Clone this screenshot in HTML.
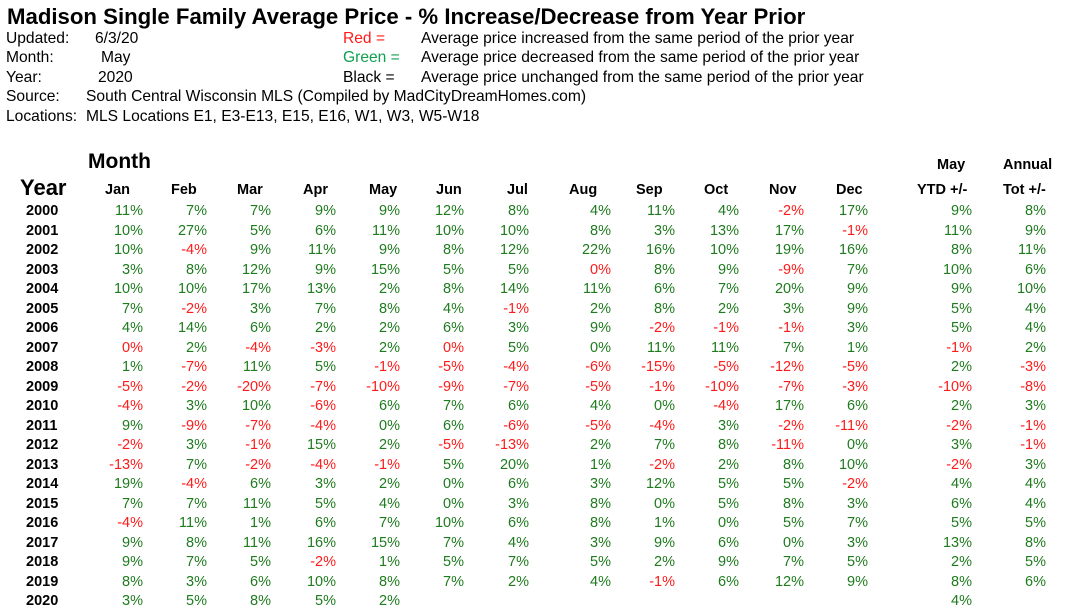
<!DOCTYPE html>
<html><head><meta charset="utf-8"><style>
body{margin:0;width:1070px;height:612px;background:#fff;position:relative;overflow:hidden;font-family:"Liberation Sans",Arial,sans-serif;color:#000}
div,span{position:absolute;white-space:nowrap}
.t{left:7px;top:4px;font-size:22.2px;font-weight:bold}
.i{font-size:15.6px;line-height:18px}
.h{font-size:14.5px;font-weight:bold;line-height:18px}
.row{left:0;width:1070px;height:18px;font-size:14.5px;line-height:18px}
.row span{text-align:right;width:60px}
.y{left:26px;font-weight:bold;text-align:left!important}
.g{color:#1e7b1e}.r{color:#ff1a1a}
.a{left:83px}.b{left:147px}.c{left:211px}.d{left:276px}.e{left:340px}.f{left:404px}.gg{left:469px}.h1{left:551px}.i1{left:615px}.j{left:679px}.k{left:744px}.l{left:808px}.m{left:912px}.n{left:986px}
</style></head><body>
<div class="t">Madison Single Family Average Price - % Increase/Decrease from Year Prior</div>
<div class="i" style="left:6px;top:30px">Updated:</div><div class="i" style="left:95px;top:30px">6/3/20</div>
<div class="i" style="left:6px;top:49px">Month:</div><div class="i" style="left:101px;top:49px">May</div>
<div class="i" style="left:6px;top:69px">Year:</div><div class="i" style="left:98px;top:69px">2020</div>
<div class="i" style="left:6px;top:88px">Source:</div><div class="i" style="left:86px;top:88px">South Central Wisconsin MLS (Compiled by MadCityDreamHomes.com)</div>
<div class="i" style="left:6px;top:108px">Locations:</div><div class="i" style="left:86px;top:108px">MLS Locations E1, E3-E13, E15, E16, W1, W3, W5-W18</div>
<div class="i" style="left:343px;top:30px;color:#ff1a1a">Red =</div><div class="i" style="left:421px;top:30px">Average price increased from the same period of the prior year</div>
<div class="i" style="left:343px;top:49px;color:#10a050">Green =</div><div class="i" style="left:421px;top:49px">Average price decreased from the same period of the prior year</div>
<div class="i" style="left:343px;top:69px">Black =</div><div class="i" style="left:421px;top:69px">Average price unchanged from the same period of the prior year</div>
<div style="left:88px;top:150px;font-size:21px;font-weight:bold">Month</div>
<div style="left:20px;top:175px;font-size:22px;font-weight:bold">Year</div>
<div class="h" style="left:937px;top:156px">May</div><div class="h" style="left:1003px;top:156px">Annual</div>
<div class="h" style="left:105px;top:181px">Jan</div><div class="h" style="left:171px;top:181px">Feb</div><div class="h" style="left:237px;top:181px">Mar</div><div class="h" style="left:303px;top:181px">Apr</div><div class="h" style="left:369px;top:181px">May</div><div class="h" style="left:436px;top:181px">Jun</div><div class="h" style="left:507px;top:181px">Jul</div><div class="h" style="left:569px;top:181px">Aug</div><div class="h" style="left:636px;top:181px">Sep</div><div class="h" style="left:704px;top:181px">Oct</div><div class="h" style="left:769px;top:181px">Nov</div><div class="h" style="left:836px;top:181px">Dec</div><div class="h" style="left:917px;top:181px">YTD +/-</div><div class="h" style="left:1003px;top:181px">Tot +/-</div>

<div class="row" style="top:202px"><span class="y">2000</span><span class="a g">11%</span><span class="b g">7%</span><span class="c g">7%</span><span class="d g">9%</span><span class="e g">9%</span><span class="f g">12%</span><span class="gg g">8%</span><span class="h1 g">4%</span><span class="i1 g">11%</span><span class="j g">4%</span><span class="k r">-2%</span><span class="l g">17%</span><span class="m g">9%</span><span class="n g">8%</span></div>
<div class="row" style="top:221.5px"><span class="y">2001</span><span class="a g">10%</span><span class="b g">27%</span><span class="c g">5%</span><span class="d g">6%</span><span class="e g">11%</span><span class="f g">10%</span><span class="gg g">10%</span><span class="h1 g">8%</span><span class="i1 g">3%</span><span class="j g">13%</span><span class="k g">17%</span><span class="l r">-1%</span><span class="m g">11%</span><span class="n g">9%</span></div>
<div class="row" style="top:241px"><span class="y">2002</span><span class="a g">10%</span><span class="b r">-4%</span><span class="c g">9%</span><span class="d g">11%</span><span class="e g">9%</span><span class="f g">8%</span><span class="gg g">12%</span><span class="h1 g">22%</span><span class="i1 g">16%</span><span class="j g">10%</span><span class="k g">19%</span><span class="l g">16%</span><span class="m g">8%</span><span class="n g">11%</span></div>
<div class="row" style="top:260.5px"><span class="y">2003</span><span class="a g">3%</span><span class="b g">8%</span><span class="c g">12%</span><span class="d g">9%</span><span class="e g">15%</span><span class="f g">5%</span><span class="gg g">5%</span><span class="h1 r">0%</span><span class="i1 g">8%</span><span class="j g">9%</span><span class="k r">-9%</span><span class="l g">7%</span><span class="m g">10%</span><span class="n g">6%</span></div>
<div class="row" style="top:280px"><span class="y">2004</span><span class="a g">10%</span><span class="b g">10%</span><span class="c g">17%</span><span class="d g">13%</span><span class="e g">2%</span><span class="f g">8%</span><span class="gg g">14%</span><span class="h1 g">11%</span><span class="i1 g">6%</span><span class="j g">7%</span><span class="k g">20%</span><span class="l g">9%</span><span class="m g">9%</span><span class="n g">10%</span></div>
<div class="row" style="top:299.5px"><span class="y">2005</span><span class="a g">7%</span><span class="b r">-2%</span><span class="c g">3%</span><span class="d g">7%</span><span class="e g">8%</span><span class="f g">4%</span><span class="gg r">-1%</span><span class="h1 g">2%</span><span class="i1 g">8%</span><span class="j g">2%</span><span class="k g">3%</span><span class="l g">9%</span><span class="m g">5%</span><span class="n g">4%</span></div>
<div class="row" style="top:319px"><span class="y">2006</span><span class="a g">4%</span><span class="b g">14%</span><span class="c g">6%</span><span class="d g">2%</span><span class="e g">2%</span><span class="f g">6%</span><span class="gg g">3%</span><span class="h1 g">9%</span><span class="i1 r">-2%</span><span class="j r">-1%</span><span class="k r">-1%</span><span class="l g">3%</span><span class="m g">5%</span><span class="n g">4%</span></div>
<div class="row" style="top:338.5px"><span class="y">2007</span><span class="a r">0%</span><span class="b g">2%</span><span class="c r">-4%</span><span class="d r">-3%</span><span class="e g">2%</span><span class="f r">0%</span><span class="gg g">5%</span><span class="h1 g">0%</span><span class="i1 g">11%</span><span class="j g">11%</span><span class="k g">7%</span><span class="l g">1%</span><span class="m r">-1%</span><span class="n g">2%</span></div>
<div class="row" style="top:358px"><span class="y">2008</span><span class="a g">1%</span><span class="b r">-7%</span><span class="c g">11%</span><span class="d g">5%</span><span class="e r">-1%</span><span class="f r">-5%</span><span class="gg r">-4%</span><span class="h1 r">-6%</span><span class="i1 r">-15%</span><span class="j r">-5%</span><span class="k r">-12%</span><span class="l r">-5%</span><span class="m g">2%</span><span class="n r">-3%</span></div>
<div class="row" style="top:377.5px"><span class="y">2009</span><span class="a r">-5%</span><span class="b r">-2%</span><span class="c r">-20%</span><span class="d r">-7%</span><span class="e r">-10%</span><span class="f r">-9%</span><span class="gg r">-7%</span><span class="h1 r">-5%</span><span class="i1 r">-1%</span><span class="j r">-10%</span><span class="k r">-7%</span><span class="l r">-3%</span><span class="m r">-10%</span><span class="n r">-8%</span></div>
<div class="row" style="top:397px"><span class="y">2010</span><span class="a r">-4%</span><span class="b g">3%</span><span class="c g">10%</span><span class="d r">-6%</span><span class="e g">6%</span><span class="f g">7%</span><span class="gg g">6%</span><span class="h1 g">4%</span><span class="i1 g">0%</span><span class="j r">-4%</span><span class="k g">17%</span><span class="l g">6%</span><span class="m g">2%</span><span class="n g">3%</span></div>
<div class="row" style="top:416.5px"><span class="y">2011</span><span class="a g">9%</span><span class="b r">-9%</span><span class="c r">-7%</span><span class="d r">-4%</span><span class="e g">0%</span><span class="f g">6%</span><span class="gg r">-6%</span><span class="h1 r">-5%</span><span class="i1 r">-4%</span><span class="j g">3%</span><span class="k r">-2%</span><span class="l r">-11%</span><span class="m r">-2%</span><span class="n r">-1%</span></div>
<div class="row" style="top:436px"><span class="y">2012</span><span class="a r">-2%</span><span class="b g">3%</span><span class="c r">-1%</span><span class="d g">15%</span><span class="e g">2%</span><span class="f r">-5%</span><span class="gg r">-13%</span><span class="h1 g">2%</span><span class="i1 g">7%</span><span class="j g">8%</span><span class="k r">-11%</span><span class="l g">0%</span><span class="m g">3%</span><span class="n r">-1%</span></div>
<div class="row" style="top:455.5px"><span class="y">2013</span><span class="a r">-13%</span><span class="b g">7%</span><span class="c r">-2%</span><span class="d r">-4%</span><span class="e r">-1%</span><span class="f g">5%</span><span class="gg g">20%</span><span class="h1 g">1%</span><span class="i1 r">-2%</span><span class="j g">2%</span><span class="k g">8%</span><span class="l g">10%</span><span class="m r">-2%</span><span class="n g">3%</span></div>
<div class="row" style="top:475px"><span class="y">2014</span><span class="a g">19%</span><span class="b r">-4%</span><span class="c g">6%</span><span class="d g">3%</span><span class="e g">2%</span><span class="f g">0%</span><span class="gg g">6%</span><span class="h1 g">3%</span><span class="i1 g">12%</span><span class="j g">5%</span><span class="k g">5%</span><span class="l r">-2%</span><span class="m g">4%</span><span class="n g">4%</span></div>
<div class="row" style="top:494.5px"><span class="y">2015</span><span class="a g">7%</span><span class="b g">7%</span><span class="c g">11%</span><span class="d g">5%</span><span class="e g">4%</span><span class="f g">0%</span><span class="gg g">3%</span><span class="h1 g">8%</span><span class="i1 g">0%</span><span class="j g">5%</span><span class="k g">8%</span><span class="l g">3%</span><span class="m g">6%</span><span class="n g">4%</span></div>
<div class="row" style="top:514px"><span class="y">2016</span><span class="a r">-4%</span><span class="b g">11%</span><span class="c g">1%</span><span class="d g">6%</span><span class="e g">7%</span><span class="f g">10%</span><span class="gg g">6%</span><span class="h1 g">8%</span><span class="i1 g">1%</span><span class="j g">0%</span><span class="k g">5%</span><span class="l g">7%</span><span class="m g">5%</span><span class="n g">5%</span></div>
<div class="row" style="top:533.5px"><span class="y">2017</span><span class="a g">9%</span><span class="b g">8%</span><span class="c g">11%</span><span class="d g">16%</span><span class="e g">15%</span><span class="f g">7%</span><span class="gg g">4%</span><span class="h1 g">3%</span><span class="i1 g">9%</span><span class="j g">6%</span><span class="k g">0%</span><span class="l g">3%</span><span class="m g">13%</span><span class="n g">8%</span></div>
<div class="row" style="top:553px"><span class="y">2018</span><span class="a g">9%</span><span class="b g">7%</span><span class="c g">5%</span><span class="d r">-2%</span><span class="e g">1%</span><span class="f g">5%</span><span class="gg g">7%</span><span class="h1 g">5%</span><span class="i1 g">2%</span><span class="j g">9%</span><span class="k g">7%</span><span class="l g">5%</span><span class="m g">2%</span><span class="n g">5%</span></div>
<div class="row" style="top:572.5px"><span class="y">2019</span><span class="a g">8%</span><span class="b g">3%</span><span class="c g">6%</span><span class="d g">10%</span><span class="e g">8%</span><span class="f g">7%</span><span class="gg g">2%</span><span class="h1 g">4%</span><span class="i1 r">-1%</span><span class="j g">6%</span><span class="k g">12%</span><span class="l g">9%</span><span class="m g">8%</span><span class="n g">6%</span></div>
<div class="row" style="top:592px"><span class="y">2020</span><span class="a g">3%</span><span class="b g">5%</span><span class="c g">8%</span><span class="d g">5%</span><span class="e g">2%</span><span class="m g">4%</span></div>
</body></html>
